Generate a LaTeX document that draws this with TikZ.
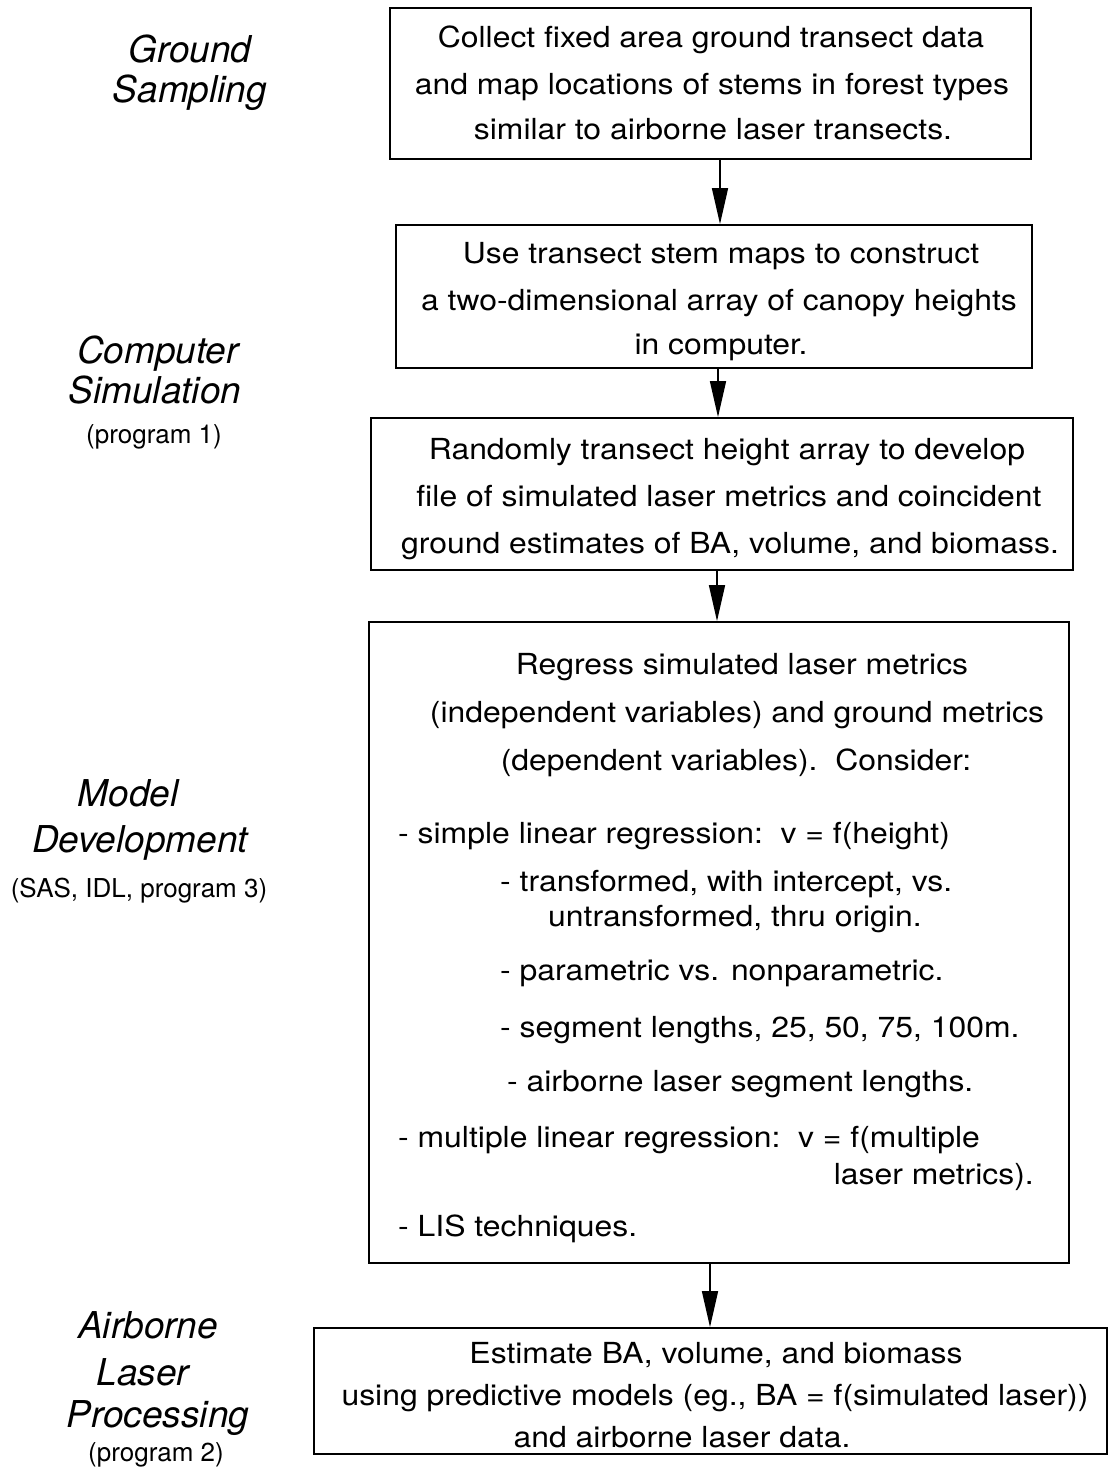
\documentclass[tikz,border=0pt]{standalone}
\usepackage{fontspec}
\setmainfont{TeX Gyre Heros}
\newfontfamily\bodyfont[FakeStretch=1.1]{TeX Gyre Heros}
\usetikzlibrary{arrows.meta}
\begin{document}
\begin{tikzpicture}[x=1pt,y=-1pt,
  box/.style={draw=black, line width=1.8pt, inner sep=0pt, rectangle},
  txt/.style={inner sep=0pt, font=\bodyfont\fontsize{29}{35}\selectfont},
  lab/.style={inner sep=0pt, font=\fontsize{37}{44}\selectfont\itshape},
  sub/.style={inner sep=0pt, font=\fontsize{26}{31}\selectfont},
  arr/.style={line width=1.5pt, -{Triangle[length=36pt,width=16pt]}}]
\useasboundingbox[fill=white] (0,0) rectangle (1110,1468);

% boxes
\node[box, minimum width=641pt, minimum height=151pt] (b1) at (710.5,83.5) {};
\node[box, minimum width=636pt, minimum height=143pt] (b2) at (714,296.5) {};
\node[box, minimum width=702pt, minimum height=152pt] (b3) at (722,494) {};
\node[box, minimum width=700pt, minimum height=641pt] (b4) at (719,942.5) {};
\node[box, minimum width=793pt, minimum height=126pt] (b5) at (710.5,1391) {};

% arrows
\draw[arr] (b1.south -| 720,0) -- (b2.north -| 720,0);
\draw[arr] (b2.south -| 718,0) -- (b3.north -| 718,0);
\draw[arr] (b3.south -| 717,0) -- (b4.north -| 717,0);
\draw[arr] (b4.south -| 710,0) -- (b5.north -| 710,0);

% box 1
\node[txt, anchor=base] (t1a) at (711,47) {Collect fixed area ground transect data};
\node[txt, anchor=base] (t1b) at (712,94) {and map locations of stems in forest types};
\node[txt, anchor=base] (t1c) at (713,139) {similar to airborne laser transects.};

% box 2
\node[txt, anchor=base] (t2a) at (721,263) {Use transect stem maps to construct};
\node[txt, anchor=base] (t2b) at (719,310) {a two-dimensional array of canopy heights};
\node[txt, anchor=base] (t2c) at (721,354) {in computer.};

% box 3
\node[txt, anchor=base] (t3a) at (727,459) {Randomly transect height array to develop};
\node[txt, anchor=base] (t3b) at (729,506) {file of simulated laser metrics and coincident};
\node[txt, anchor=base] (t3c) at (730,553) {ground estimates of BA, volume, and biomass.};

% box 4
\node[txt, anchor=base] (t4a) at (742,674) {Regress simulated laser metrics};
\node[txt, anchor=base] (t4b) at (737,722) {(independent variables) and ground metrics};
\node[txt, anchor=base] (t4c) at (736,770) {(dependent variables).\ \ Consider:};
\node[txt, anchor=base west] (t4d) at (398,843) {- simple linear regression:\ \ v = f(height)};
\node[txt, anchor=base west] (t4e) at (500,891) {- transformed, with intercept, vs.};
\node[txt, anchor=base west] (t4f) at (548,926) {untransformed, thru origin.};
\node[txt, anchor=base west] (t4g) at (500,980) {- parametric vs. nonparametric.};
\node[txt, anchor=base west] (t4h) at (500,1037) {- segment lengths, 25, 50, 75, 100m.};
\node[txt, anchor=base west] (t4i) at (507,1091) {- airborne laser segment lengths.};
\node[txt, anchor=base west] (t4j) at (398,1147) {- multiple linear regression:\ \ v = f(multiple};
\node[txt, anchor=base east] (t4k) at (1034,1184) {laser metrics).};
\node[txt, anchor=base west] (t4l) at (398,1236) {- LIS techniques.};

% box 5
\node[txt, anchor=base] (t5a) at (716,1363) {Estimate BA, volume, and biomass};
\node[txt, anchor=base] (t5b) at (715,1405) {using predictive models (eg., BA = f(simulated laser))};
\node[txt, anchor=base] (t5c) at (682,1447) {and airborne laser data.};

% left labels
\node[lab, anchor=base] (l1a) at (190,62) {Ground};
\node[lab, anchor=base] (l1b) at (190,102) {Sampling};
\node[lab, anchor=base] (l2a) at (158,363) {Computer};
\node[lab, anchor=base] (l2b) at (155,403) {Simulation};
\node[sub, anchor=base] (l2c) at (154,443) {(program 1)};
\node[lab, anchor=base] (l3a) at (128,806) {Model};
\node[lab, anchor=base] (l3b) at (140,852) {Development};
\node[sub, anchor=base] (l3c) at (139,897) {(SAS, IDL, program 3)};
\node[lab, anchor=base] (l4a) at (148,1338) {Airborne};
\node[lab, anchor=base] (l4b) at (143,1385) {Laser};
\node[lab, anchor=base] (l4c) at (158,1427) {Processing};
\node[sub, anchor=base] (l4d) at (156,1461) {(program 2)};
\end{tikzpicture}
\end{document}
